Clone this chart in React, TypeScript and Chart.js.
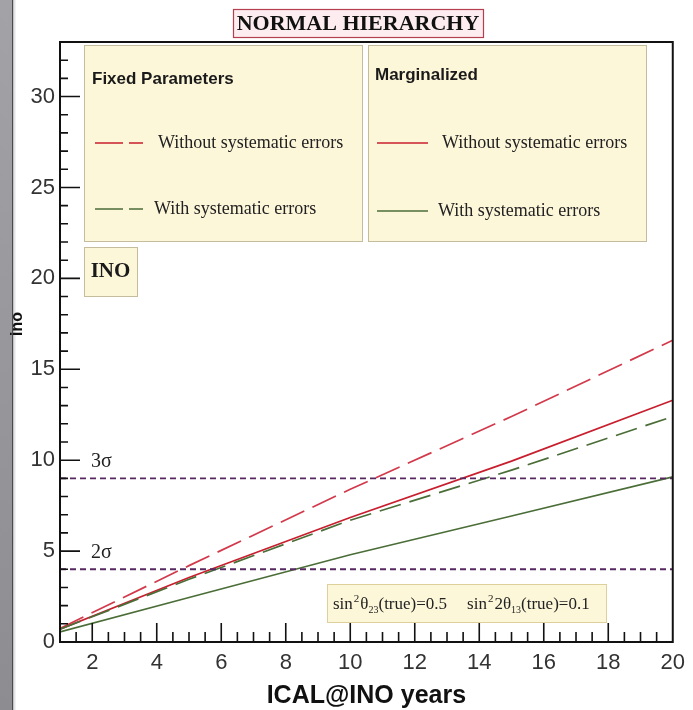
import React, { useEffect, useRef } from 'react';
import { Chart, registerables } from 'chart.js';

Chart.register(...registerables);

// ---- data ----
const years = [1, 5, 10, 15, 20];
const fixedWithoutSys = [0.75, 4.2, 8.4, 12.4, 16.6];
const fixedWithSys = [0.7, 3.45, 6.7, 9.45, 12.4];
const margWithoutSys = [0.7, 3.55, 6.85, 9.95, 13.3];
const margWithSys = [0.55, 2.45, 4.8, 6.93, 9.08];
const sigmaLevels = [9, 4];
const sigmaLabels = ['3σ', '2σ'];
const xTickValues = [2, 4, 6, 8, 10, 12, 14, 16, 18, 20];
const yTickValues = [0, 5, 10, 15, 20, 25, 30];

const RED = '#c81f2e';
const RED_DASH = '#d23a4b';
const GREEN = '#4b6e38';
const PURPLE = '#56285f';
const BOX_FILL = '#fdf7da';
const BOX_EDGE = '#c4bc9c';

const SANS = '"Liberation Sans", Arial, sans-serif';
const SERIF = '"Liberation Serif", "Times New Roman", serif';

function pts(vals: number[]) {
  return years.map((x, i) => ({ x, y: vals[i] }));
}

function box(ctx: CanvasRenderingContext2D, x: number, y: number, w: number, h: number, fill: string, edge: string, lw = 1) {
  ctx.save();
  ctx.fillStyle = fill;
  ctx.fillRect(x, y, w, h);
  ctx.strokeStyle = edge;
  ctx.lineWidth = lw;
  ctx.strokeRect(x + 0.5, y + 0.5, w, h);
  ctx.restore();
}

function sample(ctx: CanvasRenderingContext2D, x1: number, x2: number, y: number, color: string, dash: number[]) {
  ctx.save();
  ctx.strokeStyle = color;
  ctx.lineWidth = 1.6;
  ctx.setLineDash(dash);
  ctx.beginPath();
  ctx.moveTo(x1, y);
  ctx.lineTo(x2, y);
  ctx.stroke();
  ctx.restore();
}

function runs(ctx: CanvasRenderingContext2D, parts: { t: string; s: number; dy?: number; gap?: number }[], x: number, y: number) {
  let cx = x;
  for (const p of parts) {
    cx += p.gap || 0;
    ctx.font = `${p.s}px ${SERIF}`;
    ctx.fillText(p.t, cx, y + (p.dy || 0));
    cx += ctx.measureText(p.t).width;
  }
}

const decor = {
  id: 'decor',
  beforeDraw(chart: any) {
    const { ctx, width, height } = chart;
    ctx.save();
    ctx.fillStyle = '#ffffff';
    ctx.fillRect(0, 0, width, height);
    const g = ctx.createLinearGradient(0, 0, 0, height);
    g.addColorStop(0, '#a3a2a7');
    g.addColorStop(0.5, '#98979c');
    g.addColorStop(1, '#8d8c91');
    ctx.fillStyle = g;
    ctx.fillRect(0, 0, 12, height);
    ctx.fillStyle = '#4a4a4e';
    ctx.fillRect(12, 0, 1.5, height);
    ctx.fillStyle = '#e4e4e6';
    ctx.fillRect(13.5, 0, 2, height);
    ctx.restore();
  },
  afterDraw(chart: any) {
    const { ctx, chartArea: ca, scales } = chart;
    const xs = scales.x;
    const ys = scales.y;
    ctx.save();

    // frame
    ctx.strokeStyle = '#111';
    ctx.lineWidth = 2;
    ctx.strokeRect(ca.left, ca.top, ca.right - ca.left, ca.bottom - ca.top);

    // inward tick marks
    ctx.lineWidth = 1.6;
    ctx.beginPath();
    for (let v = 1; v <= 32; v++) {
      const py = ys.getPixelForValue(v);
      const len = v % 5 === 0 ? 20 : 8;
      ctx.moveTo(ca.left, py);
      ctx.lineTo(ca.left + len, py);
    }
    for (let v = 1.5; v < 20; v += 0.5) {
      const px = xs.getPixelForValue(v);
      const len = v % 2 === 0 ? 19 : 10;
      ctx.moveTo(px, ca.bottom);
      ctx.lineTo(px, ca.bottom - len);
    }
    ctx.stroke();

    // sigma labels
    ctx.fillStyle = '#222';
    ctx.font = `20px ${SERIF}`;
    ctx.textBaseline = 'middle';
    ctx.textAlign = 'left';
    sigmaLevels.forEach((lv, i) => {
      ctx.fillText(sigmaLabels[i], ca.left + 31, ys.getPixelForValue(lv) - 17);
    });

    // legend boxes
    box(ctx, 84, 45, 278, 196, BOX_FILL, BOX_EDGE);
    box(ctx, 368, 45, 278, 196, BOX_FILL, BOX_EDGE);
    ctx.fillStyle = '#1a1a1a';
    ctx.font = `bold 17px ${SANS}`;
    ctx.fillText('Fixed Parameters', 92, 79);
    ctx.fillText('Marginalized', 375, 75);
    sample(ctx, 95, 143, 143, RED, [28, 6, 14, 200]);
    sample(ctx, 95, 143, 209, GREEN, [28, 6, 14, 200]);
    sample(ctx, 377, 428, 143, RED, []);
    sample(ctx, 377, 428, 211, GREEN, []);
    ctx.fillStyle = '#222';
    ctx.font = `18px ${SERIF}`;
    ctx.fillText('Without systematic errors', 158, 143);
    ctx.fillText('With systematic errors', 154, 209);
    ctx.fillText('Without systematic errors', 442, 143);
    ctx.fillText('With systematic errors', 438, 211);

    // INO box
    box(ctx, 84, 247, 53, 49, BOX_FILL, BOX_EDGE);
    ctx.fillStyle = '#1a1a1a';
    ctx.font = `bold 21px ${SERIF}`;
    ctx.textAlign = 'center';
    ctx.fillText('INO', 110.5, 272);

    // title box
    box(ctx, 233, 9, 250, 28, '#fdedf0', '#b4404f', 1.2);
    ctx.fillStyle = '#111';
    ctx.font = `bold 22px ${SERIF}`;
    ctx.fillText('NORMAL HIERARCHY', 358, 24);

    // parameter box
    box(ctx, 327, 584, 279, 38, BOX_FILL, '#ddd09a');
    ctx.fillStyle = '#222';
    ctx.textAlign = 'left';
    ctx.textBaseline = 'alphabetic';
    runs(ctx, [
      { t: 'sin', s: 17 }, { t: '2', s: 11, dy: -7, gap: 1 }, { t: 'θ', s: 17, gap: 1 }, { t: '23', s: 10, dy: 4 },
      { t: '(true)=0.5', s: 17 }, { t: 'sin', s: 17, gap: 20 }, { t: '2', s: 11, dy: -7, gap: 1 }, { t: '2θ', s: 17, gap: 1 }, { t: '13', s: 10, dy: 4 },
      { t: '(true)=0.1', s: 17 },
    ], 333, 609);

    // axis titles
    ctx.fillStyle = '#111';
    ctx.font = `bold 25px ${SANS}`;
    ctx.textAlign = 'center';
    ctx.fillText('ICAL@INO years', (ca.left + ca.right) / 2, 703);

    ctx.save();
    ctx.translate(18, 324);
    ctx.rotate(-Math.PI / 2);
    ctx.font = `bold 16px ${SANS}`;
    ctx.textBaseline = 'middle';
    ctx.fillText('ino', 0, 0);
    ctx.restore();

    ctx.restore();
  },
};

export default function App() {
  const ref = useRef<HTMLCanvasElement | null>(null);
  useEffect(() => {
    if (!ref.current) return;
    const line = (vals: number[], color: string, dash: number[]) => ({
      data: pts(vals),
      borderColor: color,
      borderWidth: 1.7,
      borderDash: dash,
      pointRadius: 0,
      tension: 0,
      fill: false,
    });
    const sigmaSets = sigmaLevels.map((lv) => ({
      data: [{ x: years[0], y: lv }, { x: years[years.length - 1], y: lv }],
      borderColor: PURPLE,
      borderWidth: 1.8,
      borderDash: [6, 4],
      pointRadius: 0,
      fill: false,
    }));
    const chart = new Chart(ref.current, {
      type: 'line',
      data: {
        datasets: [
          ...sigmaSets,
          line(margWithSys, GREEN, []),
          line(fixedWithSys, GREEN, [22, 9]),
          line(margWithoutSys, RED, []),
          line(fixedWithoutSys, RED_DASH, [26, 9]),
        ] as any,
      },
      options: {
        animation: false,
        responsive: false,
        devicePixelRatio: 1,
        layout: { padding: { top: 42, right: 15, left: 0, bottom: 0 } },
        plugins: { legend: { display: false }, tooltip: { enabled: false } },
        scales: {
          x: {
            type: 'linear',
            min: 1,
            max: 20,
            afterBuildTicks: (axis: any) => { axis.ticks = xTickValues.map((value) => ({ value })); },
            afterFit: (s: any) => { s.height = 68; },
            grid: { display: false, drawTicks: false },
            border: { display: false },
            ticks: { font: { family: SANS, size: 22 }, color: '#333', padding: 8, maxRotation: 0, autoSkip: false },
          },
          y: {
            type: 'linear',
            min: 0,
            max: 33,
            afterBuildTicks: (axis: any) => { axis.ticks = yTickValues.map((value) => ({ value })); },
            afterFit: (s: any) => { s.width = 60; },
            grid: { display: false, drawTicks: false },
            border: { display: false },
            ticks: { font: { family: SANS, size: 22 }, color: '#333', padding: 5, autoSkip: false },
          },
        },
      } as any,
      plugins: [decor],
    });
    return () => chart.destroy();
  }, []);
  return (
    <div style={{ position: 'absolute', left: 0, top: 0, width: 693, height: 710 }}>
      <canvas ref={ref} width={693} height={710} style={{ width: 693, height: 710, display: 'block' }} />
    </div>
  );
}
